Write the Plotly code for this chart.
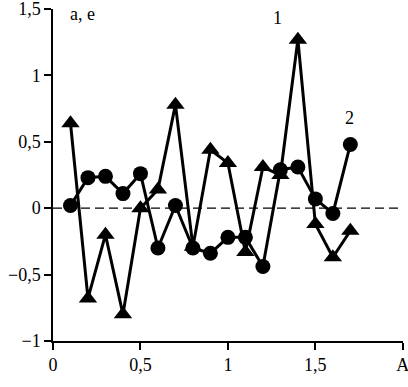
import plotly.graph_objects as go

x_vals = [0.1, 0.2, 0.3, 0.4, 0.5, 0.6, 0.7, 0.8, 0.9, 1.0, 1.1, 1.2, 1.3, 1.4, 1.5, 1.6, 1.7]
series1 = [0.64, -0.68, -0.2, -0.8, 0.0, 0.14, 0.78, -0.29, 0.44, 0.34, -0.33, 0.31, 0.25, 1.27, -0.12, -0.37, -0.17]
series2 = [0.02, 0.23, 0.24, 0.11, 0.26, -0.30, 0.02, -0.30, -0.34, -0.22, -0.22, -0.44, 0.29, 0.31, 0.07, -0.04, 0.48]

x_tickvals = [0, 0.5, 1, 1.5, 2]
x_ticktext = ["0", "0,5", "1", "1,5", "A"]
y_tickvals = [-1, -0.5, 0, 0.5, 1, 1.5]
y_ticktext = ["\u22121", "\u22120,5", "0", "0,5", "1", "1,5"]

FONT = "Liberation Serif"
tfont = dict(family=FONT, size=18, color="black")

fig = go.Figure()
fig.add_trace(go.Scatter(x=[0, 2], y=[0, 0], mode="lines",
                         line=dict(color="black", width=1.2, dash="9px,5px"),
                         showlegend=False, hoverinfo="skip"))
fig.add_trace(go.Scatter(x=x_vals, y=series1, mode="lines+markers",
                         line=dict(color="black", width=3),
                         marker=dict(symbol="triangle-up", size=16, color="black"),
                         showlegend=False, cliponaxis=False))
fig.add_trace(go.Scatter(x=x_vals, y=series2, mode="lines+markers",
                         line=dict(color="black", width=3),
                         marker=dict(symbol="circle", size=15, color="black"),
                         showlegend=False, cliponaxis=False))

W, H = 408, 387
ML, MR, MT, MB = 53, 5, 9, 46
plot_w = W - ML - MR
plot_h = H - MT - MB

def px_to_paper(px, py):
    return (px - ML) / plot_w, (H - py - MB) / plot_h

for label, (px, py), anchor in [("1", (277, 18), "center"), ("2", (349, 118), "center"), ("a, e", (68, 14), "left")]:
    ax, ay = px_to_paper(px, py)
    fig.add_annotation(x=ax, y=ay, text=label, showarrow=False, xref="paper", yref="paper",
                       font=tfont, xanchor=anchor, yanchor="middle")

axis_common = dict(showgrid=False, zeroline=False, showline=True, linecolor="black", linewidth=1.5,
                   ticks="outside", ticklen=7, tickwidth=1.5, tickcolor="black",
                   tickfont=tfont, automargin=False, ticklabeloverflow="allow")

fig.update_layout(
    width=W, height=H,
    margin=dict(l=ML, r=MR, t=MT, b=MB),
    paper_bgcolor="white", plot_bgcolor="white",
    font=tfont,
    xaxis=dict(range=[0, 2.001], tickvals=x_tickvals, ticktext=x_ticktext, **axis_common),
    yaxis=dict(range=[-1.001, 1.501], tickvals=y_tickvals, ticktext=y_ticktext, **axis_common),
)

fig.write_html("out.html", config={"displayModeBar": False},
               post_script="document.body.style.margin='0';document.body.style.overflow='hidden';")
